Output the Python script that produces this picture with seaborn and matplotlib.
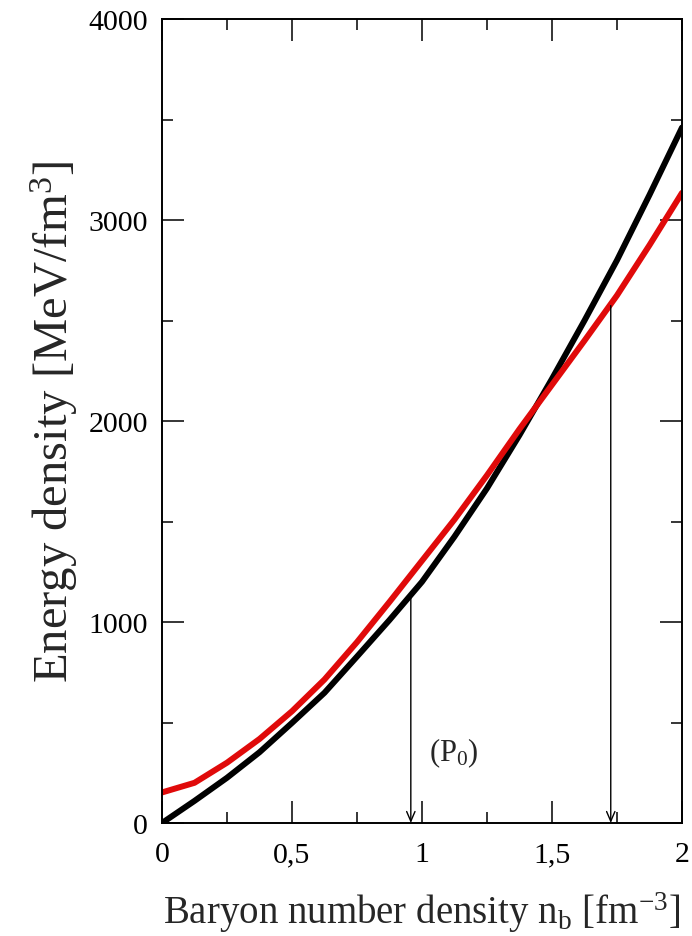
import numpy as np
import pandas as pd
import matplotlib
matplotlib.use('Agg')
import matplotlib.pyplot as plt
from matplotlib.ticker import MultipleLocator, FuncFormatter
import seaborn as sns

# ============================
# Data
# ============================
nb = [0, 0.125, 0.25, 0.375, 0.5, 0.625, 0.75, 0.875, 1.0,
      1.125, 1.25, 1.375, 1.5, 1.625, 1.75, 1.875, 2.0]
eps_black = [0, 110, 225, 352, 498, 648, 828, 1010, 1200,
             1425, 1665, 1930, 2210, 2500, 2800, 3125, 3460]
eps_red = [152, 200, 300, 418, 556, 714, 900, 1100, 1305,
           1510, 1730, 1960, 2180, 2400, 2625, 2875, 3135]

# vertical arrows (P0 and second transition point)
arrow_x = [0.957, 1.726]
arrow_top = [1148, 2574]

df = pd.DataFrame({'nb': nb, 'black': eps_black, 'red': eps_red})

# ============================
# Style
# ============================
sns.set_style('ticks')
plt.rcParams['font.family'] = ['Liberation Serif', 'DejaVu Serif']
plt.rcParams['mathtext.fontset'] = 'custom'
plt.rcParams['mathtext.rm'] = 'Liberation Serif'
plt.rcParams['mathtext.it'] = 'Liberation Serif:italic'
plt.rcParams['mathtext.bf'] = 'Liberation Serif:bold'

fig = plt.figure(figsize=(6.92, 9.37), dpi=100)
ax = fig.add_axes([162 / 692, 1 - 824 / 937, 520 / 692, 804 / 937])

sns.lineplot(data=df, x='nb', y='black', color='black', linewidth=4.3, ax=ax)
sns.lineplot(data=df, x='nb', y='red', color='#e00a0a', linewidth=4.3, ax=ax)

for xa, ya in zip(arrow_x, arrow_top):
    ax.annotate('', xy=(xa, 0), xytext=(xa, ya),
                arrowprops=dict(arrowstyle='->,head_length=0.7,head_width=0.3',
                                color='black', lw=1.0, shrinkA=0, shrinkB=0))

ax.text(1.026, 350, r'(P$_0$)', fontsize=22, ha='left', va='center')

ax.set_xlim(0, 2)
ax.set_ylim(0, 4000)
ax.xaxis.set_major_locator(MultipleLocator(0.5))
ax.xaxis.set_minor_locator(MultipleLocator(0.25))
ax.yaxis.set_major_locator(MultipleLocator(1000))
ax.yaxis.set_minor_locator(MultipleLocator(500))
ax.xaxis.set_major_formatter(FuncFormatter(lambda v, p: ('%g' % v).replace('.', ',')))
ax.yaxis.set_major_formatter(FuncFormatter(lambda v, p: '%d' % v))

ax.tick_params(which='both', direction='in', top=True, right=True, width=1.1,
               labelsize=21.5, colors='black')
ax.tick_params(which='major', length=16)
ax.tick_params(which='minor', length=8)
ax.tick_params(axis='x', which='major', pad=13)
ax.tick_params(axis='y', which='major', pad=10)
for s in ax.spines.values():
    s.set_linewidth(1.4)
    s.set_color('black')

ax.set_xlabel(r'Baryon number density n$_\mathrm{b}$ [fm$^{-3}$]', fontsize=28, labelpad=16)
ax.set_ylabel(r'Energy density [MeV/fm$^3$]', fontsize=35, labelpad=6)

fig.savefig('out.png', dpi=100)
